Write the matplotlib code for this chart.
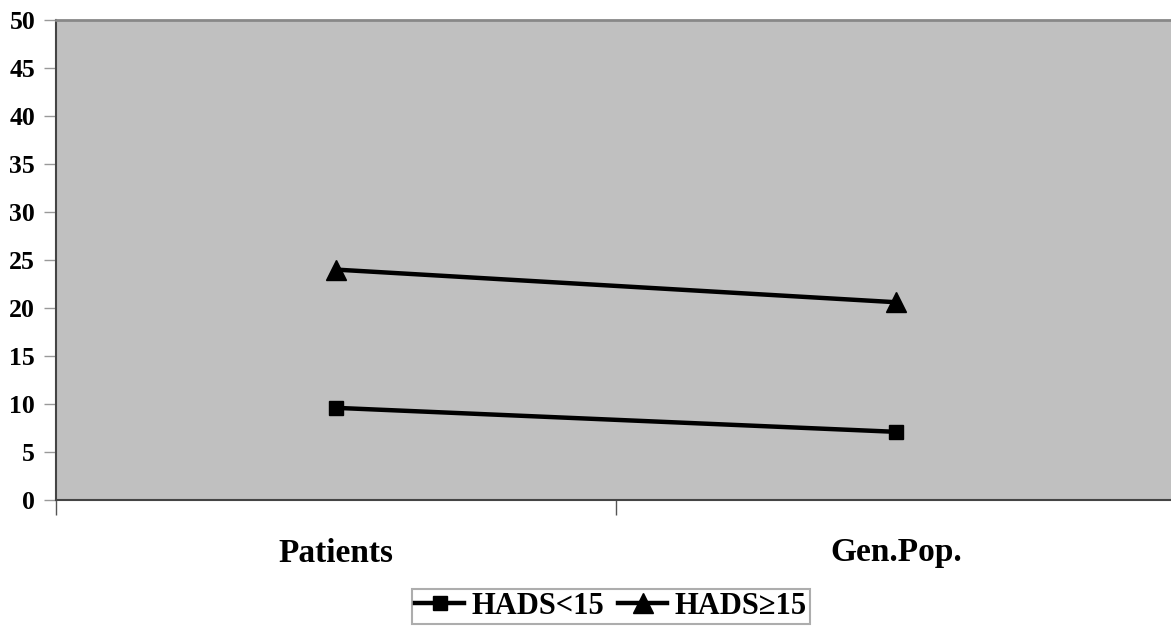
import matplotlib
matplotlib.use("Agg")
import matplotlib.pyplot as plt

plt.rcParams['font.family'] = ['Liberation Serif', 'DejaVu Serif']
plt.rcParams['font.weight'] = 'bold'

groups = ['Patients', 'Gen.Pop.']
hads_low = [9.6, 7.1]
hads_high = [24.0, 20.6]
y_ticks = [0, 5, 10, 15, 20, 25, 30, 35, 40, 45, 50]

fig = plt.figure(figsize=(11.71, 6.35), dpi=100)
# plot area runs past the right edge of the image, as in the original
ax = fig.add_axes([56/1171, 135/635, 1120/1171, 480/635])
ax.set_facecolor('#c0c0c0')

x = list(range(len(groups)))
ax.plot(x, hads_low, color='black', lw=3.2, marker='s', ms=10.5, label='HADS<15')
ax.plot(x, hads_high, color='black', lw=3.2, marker='^', ms=14, label='HADS\u226515')

ax.set_xlim(-0.5, 1.5)
ax.set_ylim(0, 50)
ax.set_yticks(y_ticks)
ax.set_xticks([-0.5, 0.5, 1.5])
ax.set_xticklabels([])
ax.set_xticks(x, minor=True)
ax.set_xticklabels(groups, minor=True, fontsize=24, fontweight='bold')
ax.tick_params(axis='x', which='minor', length=0, pad=27)
ax.tick_params(axis='x', which='major', length=11, color='#555555', width=1)
ax.tick_params(axis='y', length=9, color='#999999', width=1, labelsize=18.5, pad=6)
for lbl in ax.get_yticklabels():
    lbl.set_fontweight('bold')

ax.spines['left'].set_color('#444444')
ax.spines['bottom'].set_color('#444444')
ax.spines['left'].set_linewidth(1.5)
ax.spines['bottom'].set_linewidth(1.5)
ax.spines['top'].set_color('#888888')
ax.spines['top'].set_linewidth(2)
ax.spines['right'].set_visible(False)

leg = fig.legend(loc='upper center', bbox_to_anchor=(611/1171, 46/635), ncol=2,
                 prop={'size': 22, 'weight': 'bold'}, frameon=True, fancybox=False,
                 edgecolor='#999999', handlelength=1.6, handletextpad=0.25,
                 columnspacing=0.45, borderpad=0.1, borderaxespad=0)
leg.get_frame().set_linewidth(1.5)

fig.savefig('out.png', dpi=100)
